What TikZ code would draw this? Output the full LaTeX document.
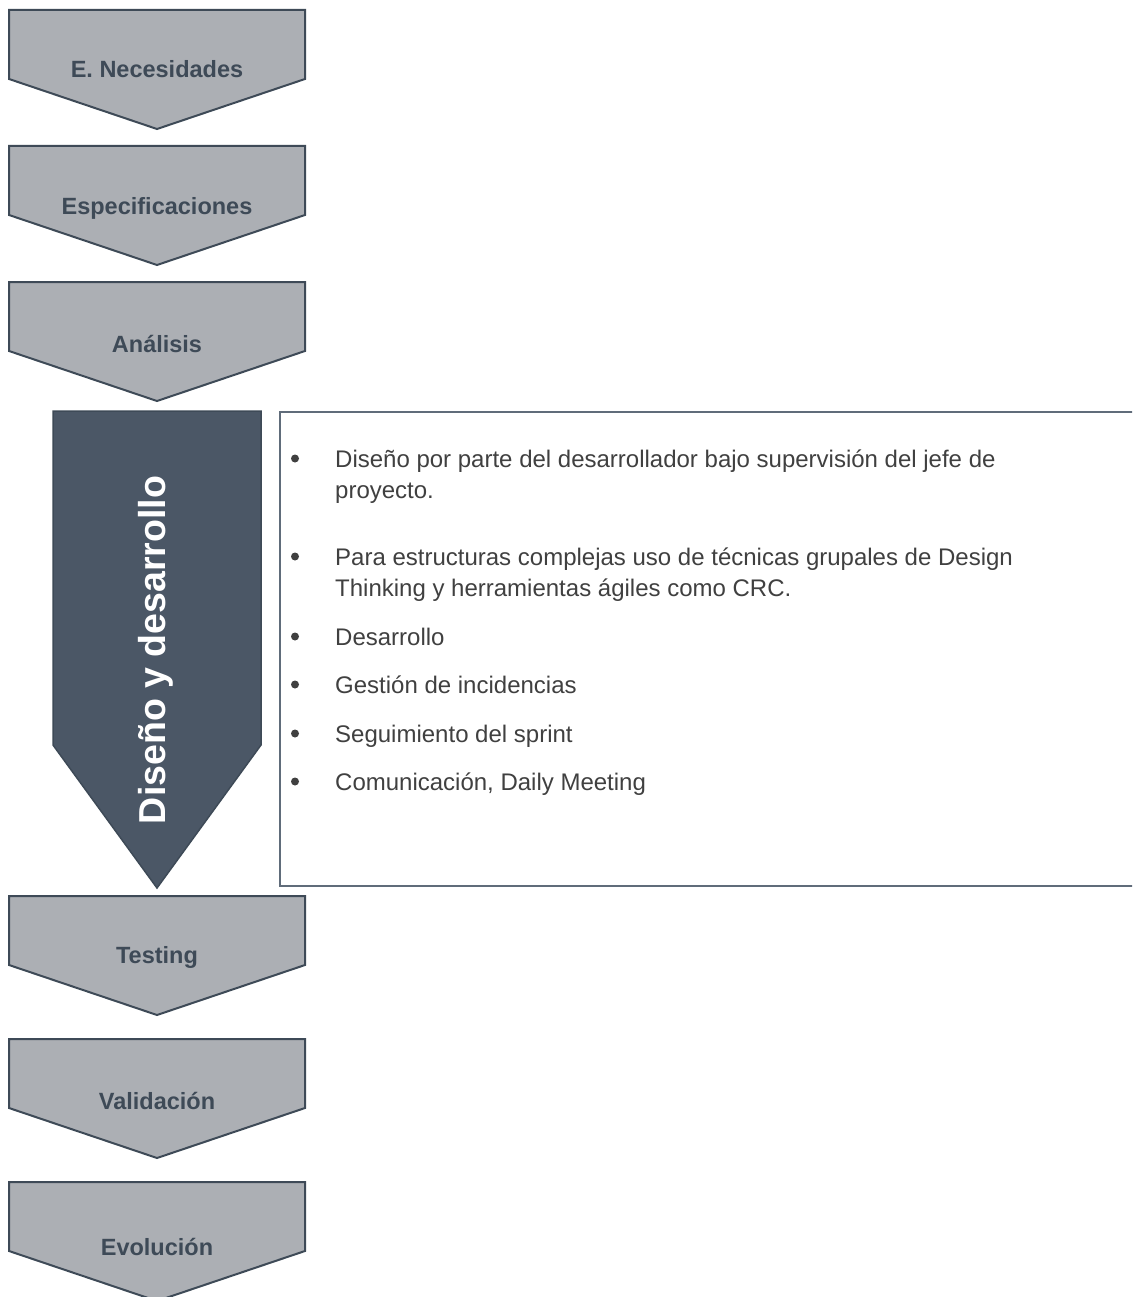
\documentclass[tikz,border=0pt]{standalone}
\usepackage{fontspec}
\setmainfont{Liberation Sans}
\definecolor{chevfill}{RGB}{172,175,180}
\definecolor{chevline}{RGB}{62,74,87}
\definecolor{darkfill}{RGB}{75,87,102}
\definecolor{boxline}{RGB}{96,108,122}
\definecolor{bodytext}{RGB}{64,64,64}
\tikzset{
  chevron/.style={fill=chevfill, draw=chevline, line width=2pt, line join=miter},
  darkchevron/.style={fill=darkfill, draw=chevline, line width=1.5pt, line join=miter},
  chevlabel/.style={font=\fontsize{23.5}{26}\selectfont\bfseries, text=chevline, inner sep=0pt, anchor=base},
  mainlabel/.style={font=\fontsize{37.5}{40}\selectfont\bfseries, text=white, inner sep=0pt, rotate=90},
  infobox/.style={draw=boxline, line width=1.3pt, fill=white},
  bulletdot/.style={circle, fill=bodytext, inner sep=0pt, minimum size=8pt},
  itemtext/.style={font=\fontsize{24}{31}\selectfont, text=bodytext, inner sep=0pt, anchor=base west}
}
\begin{document}
\begin{tikzpicture}[x=1pt, y=-1pt]
  \useasboundingbox (0,0) rectangle (1132,1297);
  \clip (0,0) rectangle (1132,1297);
  \fill[white] (0,0) rectangle (1132,1297);

  % light process steps: top edge, label baseline, name, label
  \foreach \top/\base/\name/\lbl in {10/78/nec/E. Necesidades, 146/215/esp/Especificaciones,
                                     282/352/ana/Análisis, 896/963/tes/Testing,
                                     1039/1109/val/Validación, 1182/1255/evo/Evolución}{
    \draw[chevron] (9,\top) -- (305,\top) -- (305,\top+69) -- (157,\top+119)
                   -- (9,\top+69) -- cycle;
    \node[chevlabel] (\name) at (157,\base) {\lbl};
  }

  % highlighted step
  \draw[darkchevron] (53,411) -- (261,411) -- (261,745) -- (157,888) -- (53,745) -- cycle;
  \node[mainlabel] (dis) at (156,650) {Diseño y desarrollo};

  % detail box
  \draw[infobox] (280,412) rectangle (1140,886);

  \foreach \y/\nm in {458.5/b1, 556.5/b2, 636.5/b3, 684.5/b4, 733.5/b5, 781.5/b6}{
    \node[bulletdot] (\nm) at (295,\y) {};
  }
  \node[itemtext] (t1) at (335,467) {Diseño por parte del desarrollador bajo supervisión del jefe de};
  \node[itemtext] (t1b) at (335,498) {proyecto.};
  \node[itemtext] (t2) at (335,565) {Para estructuras complejas uso de técnicas grupales de Design};
  \node[itemtext] (t2b) at (335,596) {Thinking y herramientas ágiles como CRC.};
  \node[itemtext] (t3) at (335,645) {Desarrollo};
  \node[itemtext] (t4) at (335,693) {Gestión de incidencias};
  \node[itemtext] (t5) at (335,742) {Seguimiento del sprint};
  \node[itemtext] (t6) at (335,790) {Comunicación, Daily Meeting};
\end{tikzpicture}
\end{document}
